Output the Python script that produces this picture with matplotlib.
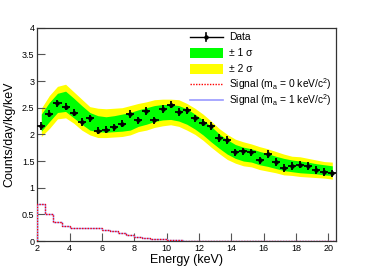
import matplotlib
matplotlib.use("Agg")
import matplotlib.pyplot as plt
import numpy as np
from matplotlib.patches import Rectangle
from matplotlib.lines import Line2D

plt.rcParams['font.family'] = ['Liberation Sans', 'DejaVu Sans']
plt.rcParams['mathtext.fontset'] = 'custom'
plt.rcParams['mathtext.rm'] = 'Liberation Sans'

# ---- data ----
energy = [2.25, 2.75, 3.25, 3.75, 4.25, 4.75, 5.25, 5.75, 6.25, 6.75, 7.25, 7.75,
          8.25, 8.75, 9.25, 9.75, 10.25, 10.75, 11.25, 11.75, 12.25, 12.75, 13.25,
          13.75, 14.25, 14.75, 15.25, 15.75, 16.25, 16.75, 17.25, 17.75, 18.25,
          18.75, 19.25, 19.75, 20.25]
counts = [2.16, 2.39, 2.58, 2.52, 2.41, 2.23, 2.30, 2.07, 2.09, 2.13, 2.20, 2.38,
          2.26, 2.44, 2.26, 2.48, 2.56, 2.42, 2.45, 2.30, 2.22, 2.16, 1.93,
          1.89, 1.66, 1.68, 1.66, 1.51, 1.63, 1.48, 1.37, 1.41, 1.43,
          1.41, 1.33, 1.29, 1.27]
counts_err = [0.07] * 37
energy_halfwidth = [0.25] * 37

band2_hi = [2.49, 2.73, 2.90, 2.94, 2.80, 2.66, 2.52, 2.49, 2.48, 2.49, 2.50, 2.54,
            2.58, 2.61, 2.65, 2.66, 2.66, 2.65, 2.58, 2.49, 2.38, 2.25, 2.11,
            2.00, 1.91, 1.86, 1.82, 1.77, 1.73, 1.68, 1.63, 1.59, 1.58,
            1.55, 1.52, 1.49, 1.48]
band1_hi = [2.38, 2.60, 2.77, 2.81, 2.68, 2.54, 2.41, 2.35, 2.33, 2.35, 2.38, 2.41,
            2.46, 2.50, 2.54, 2.56, 2.56, 2.54, 2.48, 2.38, 2.27, 2.15, 2.01,
            1.90, 1.81, 1.76, 1.73, 1.68, 1.64, 1.59, 1.55, 1.52, 1.50,
            1.48, 1.45, 1.43, 1.41]
band1_lo = [2.06, 2.24, 2.41, 2.43, 2.31, 2.19, 2.08, 2.05, 2.04, 2.05, 2.06, 2.08,
            2.15, 2.19, 2.24, 2.27, 2.28, 2.25, 2.19, 2.10, 1.99, 1.86, 1.74,
            1.63, 1.55, 1.50, 1.48, 1.43, 1.40, 1.36, 1.32, 1.30, 1.28,
            1.27, 1.26, 1.24, 1.23]
band2_lo = [1.96, 2.11, 2.29, 2.31, 2.21, 2.08, 1.99, 1.94, 1.94, 1.95, 1.96, 1.99,
            2.05, 2.08, 2.13, 2.16, 2.18, 2.15, 2.08, 2.00, 1.89, 1.76, 1.64,
            1.53, 1.46, 1.41, 1.39, 1.34, 1.31, 1.28, 1.24, 1.23, 1.21,
            1.20, 1.19, 1.18, 1.16]

sig_edges = [2.0, 2.5, 3.0, 3.5, 4.0, 4.5, 5.0, 5.5, 6.0, 6.5, 7.0, 7.5, 8.0, 8.5,
             9.0, 9.5, 10.0, 10.5, 11.0, 11.5, 12.0, 12.5, 13.0, 13.5, 14.0, 14.5,
             15.0, 15.5, 16.0, 16.5, 17.0, 17.5, 18.0, 18.5, 19.0, 19.5, 20.0, 20.5]
signal_m0 = [0.70, 0.51, 0.36, 0.28, 0.24, 0.24, 0.24, 0.24, 0.21, 0.18, 0.15, 0.12,
             0.08, 0.06, 0.04, 0.03, 0.02, 0.01, 0.005, 0.003, 0.002, 0.001, 0.0,
             0.0, 0.0, 0.0, 0.0, 0.0, 0.0, 0.0, 0.0, 0.0, 0.0, 0.0, 0.0, 0.0, 0.0]
signal_m1 = [0.70, 0.51, 0.36, 0.28, 0.24, 0.24, 0.24, 0.24, 0.21, 0.18, 0.15, 0.12,
             0.08, 0.06, 0.04, 0.03, 0.02, 0.01, 0.005, 0.003, 0.002, 0.001, 0.0,
             0.0, 0.0, 0.0, 0.0, 0.0, 0.0, 0.0, 0.0, 0.0, 0.0, 0.0, 0.0, 0.0, 0.0]

x_ticks = [2, 4, 6, 8, 10, 12, 14, 16, 18, 20]
y_ticks = [0, 0.5, 1, 1.5, 2, 2.5, 3, 3.5, 4]
y_tick_labels = ["0", "0.5", "1", "1.5", "2", "2.5", "3", "3.5", "4"]

legend_labels = ["Data", "± 1 σ", "± 2 σ",
                 r"Signal (m$_{\rm a}$ = 0 keV/c$^{2}$)",
                 r"Signal (m$_{\rm a}$ = 1 keV/c$^{2}$)"]

# ---- figure ----
fig = plt.figure(figsize=(3.74, 2.69), dpi=100)
ax = fig.add_axes([0.0997, 0.104, 0.7983, 0.793])

ax.fill_between(energy, band2_lo, band2_hi, color='#ffff00', lw=0, zorder=1)
ax.fill_between(energy, band1_lo, band1_hi, color='#00ff00', lw=0, zorder=2)

ax.stairs(signal_m1, sig_edges, color='#9999ff', lw=1.0, zorder=3)
ax.stairs(signal_m0, sig_edges, color='#ff0000', lw=1.0, ls=(0, (1, 1)), zorder=4)

ax.errorbar(energy, counts, yerr=counts_err, xerr=energy_halfwidth, fmt='o',
            color='black', ms=2.2, elinewidth=1.3, capsize=0, zorder=5)

ax.set_xlim(2, 20.47)
ax.set_ylim(0, 4)
ax.set_xticks(x_ticks)
ax.set_xticklabels([str(t) for t in x_ticks])
ax.set_yticks(y_ticks)
ax.set_yticklabels(y_tick_labels)
ax.tick_params(direction='in', length=6, width=0.8, color='#555555',
               labelsize=6.5, pad=2)
for s in ax.spines.values():
    s.set_linewidth(0.9)
    s.set_color('#333333')

ax.set_xlabel("Energy (keV)", fontsize=9, labelpad=1)
ax.set_ylabel("Counts/day/kg/keV", fontsize=9, labelpad=5)

# ---- manual legend (axes coordinates) ----
row_y = [0.955, 0.880, 0.806, 0.734, 0.661]
hx0, hx1, tx = 0.511, 0.622, 0.642
box_h = 0.048
tr = ax.transAxes
# Data
ax.add_line(Line2D([hx0, hx1], [row_y[0]] * 2, color='black', lw=1.0,
                   transform=tr, clip_on=False, zorder=6))
ax.add_line(Line2D([(hx0 + hx1) / 2], [row_y[0]], color='black', marker='o',
                   ms=2.2, transform=tr, clip_on=False, zorder=6))
ax.add_line(Line2D([(hx0 + hx1) / 2] * 2, [row_y[0] - 0.018, row_y[0] + 0.018],
                   color='black', lw=1.2, transform=tr, clip_on=False, zorder=6))
# bands
ax.add_patch(Rectangle((hx0, row_y[1] - box_h / 2), hx1 - hx0, box_h,
                       facecolor='#00ff00', edgecolor='none', transform=tr, zorder=6))
ax.add_patch(Rectangle((hx0, row_y[2] - box_h / 2), hx1 - hx0, box_h,
                       facecolor='#ffff00', edgecolor='none', transform=tr, zorder=6))
# signals
ax.add_line(Line2D([hx0, hx1], [row_y[3]] * 2, color='#ff0000', lw=1.0,
                   ls=(0, (1, 1)), transform=tr, zorder=6))
ax.add_line(Line2D([hx0, hx1], [row_y[4]] * 2, color='#9999ff', lw=1.2,
                   transform=tr, zorder=6))
for y, lab in zip(row_y, legend_labels):
    ax.text(tx, y, lab, transform=tr, fontsize=7.4, va='center', ha='left', zorder=6)

fig.savefig("out.png", dpi=100)
